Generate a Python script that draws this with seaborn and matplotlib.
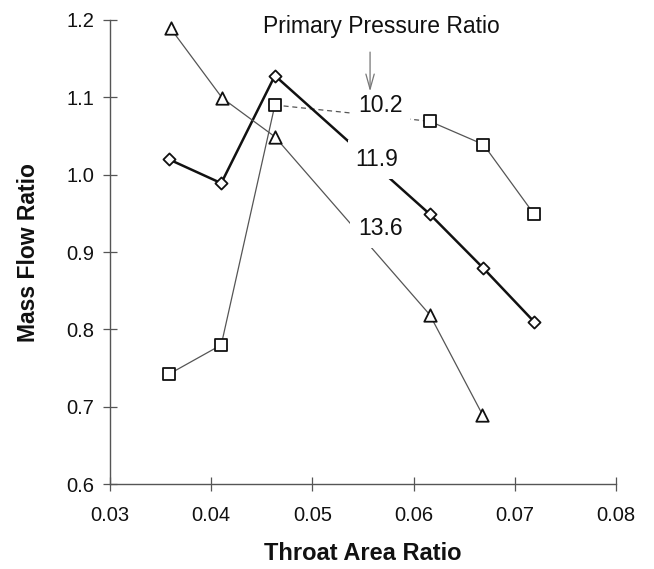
import matplotlib
matplotlib.use("Agg")
import matplotlib.pyplot as plt
import seaborn as sns
import pandas as pd

# ---- data ----
throat_area = [0.0358, 0.0410, 0.0463, 0.0616, 0.0669, 0.0719]
throat_area_tri = [0.0360, 0.0411, 0.0463, 0.0616, 0.0668]
mfr_102 = [0.742, 0.780, 1.090, 1.069, 1.039, 0.949]
mfr_119 = [1.020, 0.989, 1.128, 0.949, 0.879, 0.810]
mfr_136 = [1.189, 1.099, 1.049, 0.819, 0.690]
pressure_labels = ["10.2", "11.9", "13.6"]
x_ticks = [0.03, 0.04, 0.05, 0.06, 0.07, 0.08]
y_ticks = [0.6, 0.7, 0.8, 0.9, 1.0, 1.1, 1.2]

sns.set_theme(style="white")
plt.rcParams['font.family'] = ['Liberation Sans', 'DejaVu Sans']

fig = plt.figure(figsize=(6.54, 5.69), dpi=100)
ax = fig.add_axes([0.168, 0.149, 0.774, 0.816])

df102 = pd.DataFrame({"x": throat_area, "y": mfr_102})
df119 = pd.DataFrame({"x": throat_area, "y": mfr_119})
df136 = pd.DataFrame({"x": throat_area_tri, "y": mfr_136})

gray = "#555555"
# 10.2 : solid outer segments, dashed middle
sns.lineplot(data=df102.iloc[0:3], x="x", y="y", ax=ax, sort=False, estimator=None,
             color=gray, lw=0.9, zorder=2)
sns.lineplot(data=df102.iloc[3:6], x="x", y="y", ax=ax, sort=False, estimator=None,
             color=gray, lw=0.9, zorder=2)
sns.lineplot(data=df102.iloc[2:4], x="x", y="y", ax=ax, sort=False, estimator=None,
             color=gray, lw=0.9, zorder=2, linestyle=(0, (4, 3)))
# 11.9 : thick black
sns.lineplot(data=df119, x="x", y="y", ax=ax, sort=False, estimator=None,
             color="#111111", lw=1.8, zorder=2)
# 13.6 : thin gray
sns.lineplot(data=df136, x="x", y="y", ax=ax, sort=False, estimator=None,
             color=gray, lw=0.9, zorder=2)

# markers
sns.scatterplot(data=df102, x="x", y="y", ax=ax, marker="s", s=70,
                facecolor="white", edgecolor="#111111", linewidth=1.3, zorder=5)
sns.scatterplot(data=df119, x="x", y="y", ax=ax, marker="D", s=38,
                facecolor="white", edgecolor="#111111", linewidth=1.3, zorder=5)
sns.scatterplot(data=df136, x="x", y="y", ax=ax, marker="^", s=80,
                facecolor="white", edgecolor="#111111", linewidth=1.3, zorder=5)

# labels on the lines
label_pos = [(0.0567, 1.090), (0.0564, 1.020), (0.0567, 0.930)]
for lab, (lx, ly) in zip(pressure_labels, label_pos):
    ax.text(lx, ly, lab, fontsize=16.5, ha="center", va="center", color="#111111",
            zorder=4, bbox=dict(boxstyle="square,pad=0.35", fc="white", ec="none"))

ax.text(0.0568, 1.191, "Primary Pressure Ratio", fontsize=16.5, ha="center",
        va="center", color="#111111")
ax.annotate("", xy=(0.0557, 1.104), xytext=(0.0557, 1.162),
            arrowprops=dict(arrowstyle="->,head_length=0.9,head_width=0.25",
                            color="#777777", lw=0.9), zorder=6)

ax.set_xlim(0.03, 0.08)
ax.set_ylim(0.6, 1.2)
ax.set_xticks(x_ticks)
ax.set_xticklabels([f"{t:.2f}" for t in x_ticks])
ax.set_yticks(y_ticks)
ax.set_yticklabels([f"{t:.1f}" for t in y_ticks])
ax.tick_params(axis="both", direction="inout", length=10, width=0.9, color=gray,
               labelsize=14.5, labelcolor="#111111", left=True, bottom=True)
ax.tick_params(axis="y", pad=6)
ax.tick_params(axis="x", pad=11)

for s in ["top", "right"]:
    ax.spines[s].set_visible(False)
for s in ["left", "bottom"]:
    ax.spines[s].set_color(gray)
    ax.spines[s].set_linewidth(1.0)

ax.set_xlabel("Throat Area Ratio", fontsize=17, fontweight="bold", color="#111111", labelpad=12)
ax.set_ylabel("Mass Flow Ratio", fontsize=16.5, fontweight="bold", color="#111111", labelpad=19)
ax.grid(False)

fig.savefig("out.png", dpi=100)
